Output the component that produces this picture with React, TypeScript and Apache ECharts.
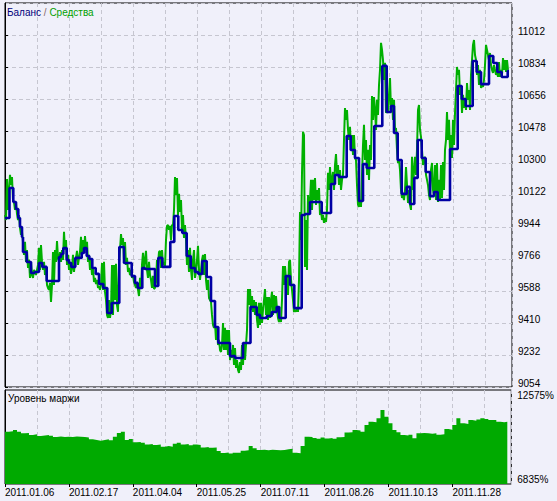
import React, { useEffect, useRef } from "react";
import * as echarts from "echarts";

// X positions are deal-sequence units (0..507); date labels every 64 units.
const dateLabels = [
  "2011.01.06", "2011.02.17", "2011.04.04", "2011.05.25",
  "2011.07.11", "2011.08.26", "2011.10.13", "2011.11.28",
];

// Balance: [position, value] step points
const balance: [number, number][] = [
  [0, 9994], [4.5, 10161], [8.3, 10083], [11, 10044], [13.3, 9994], [15, 9944], [17, 9888], [18, 9805],
  [21.7, 9749], [26, 9688], [29.7, 9694], [34, 9744], [37.3, 9722], [41.7, 9644], [54, 9777], [56, 9794],
  [58.3, 9827], [61.7, 9760], [64, 9744], [66.3, 9722], [70.3, 9772], [76.7, 9799], [79, 9827], [81.7, 9783],
  [84.3, 9766], [87.3, 9716], [90.7, 9683], [94, 9627], [98.3, 9605], [102.3, 9466], [106.7, 9521], [114.3, 9833],
  [119, 9744], [126.7, 9671], [130, 9633], [132.7, 9605], [137.3, 9716], [140, 9710], [150, 9616], [153.3, 9772],
  [157.3, 9722], [165.3, 9861], [169.3, 10005], [173.3, 9927], [177.3, 9911], [181.7, 9783], [185.7, 9716], [190, 9694],
  [193.3, 9683], [197.3, 9755], [201.7, 9666], [206, 9532], [210, 9388], [213.3, 9299], [225, 9226], [230, 9215],
  [238, 9299], [245.5, 9499], [251.7, 9455], [255, 9438], [261.7, 9449], [266.7, 9471], [271.7, 9499], [274.3, 9438],
  [280.7, 9671], [285, 9621], [289.3, 9493], [296.7, 10011], [300, 10016], [305, 10083], [316.7, 10022], [326, 10183],
  [330, 10233], [334, 10222], [341.7, 10450], [345.7, 10372], [350, 10328], [354, 10089], [358, 10294], [361.7, 10272],
  [369.3, 10506], [377.3, 10840], [381.7, 10584], [386, 10617], [389, 10467], [392.7, 10317], [396.7, 10128], [401.7, 10167],
  [405, 10072], [409.3, 10217], [412.7, 10428], [416.7, 10328], [420.7, 10250], [425, 10116], [429, 10139], [432.7, 10094],
  [445, 10378], [452.7, 10728], [456.7, 10656], [460.7, 10617], [467.7, 10867], [471.7, 10806], [476, 10739], [484, 10895],
  [488.3, 10856], [492.3, 10806], [496.7, 10778], [502.7, 10812], [504, 10812],
];

// Equity: one value per position unit, starting at 0
const equity: number[] = [
  10011, 9983, 10211, 10039, 10150, 10234, 10178, 10222, 10094, 10083, 10039, 10078, 10017, 9983, 10011, 9939,
  9900, 9917, 9861, 9789, 9861, 9750, 9816, 9716, 9761, 9661, 9750, 9677, 9661, 9705, 9694, 9677,
  9705, 9733, 9828, 9705, 9844, 9750, 9705, 9750, 9677, 9716, 9622, 9605, 9594, 9633, 9527, 9622,
  9805, 9622, 9816, 9750, 9866, 9772, 9750, 9805, 9750, 9816, 9761, 9917, 9816, 9872, 9733, 9789,
  9705, 9750, 9683, 9716, 9789, 9694, 9750, 9772, 9811, 9733, 9772, 9805, 9889, 9789, 9872, 9805,
  9894, 9816, 9861, 9750, 9789, 9705, 9761, 9677, 9716, 9638, 9661, 9627, 9650, 9605, 9616, 9594,
  9622, 9744, 9594, 9750, 9583, 9538, 9455, 9438, 9538, 9438, 9483, 9733, 9455, 9733, 9538, 9739,
  9510, 9472, 9744, 9816, 9905, 9844, 9883, 9761, 9861, 9733, 9772, 9694, 9716, 9677, 9705, 9661,
  9677, 9638, 9622, 9605, 9633, 9594, 9560, 9661, 9605, 9733, 9800, 9705, 9761, 9811, 9705, 9661,
  9750, 9677, 9650, 9605, 9672, 9599, 9605, 9638, 9761, 9733, 9805, 9811, 9716, 9816, 9733, 9750,
  9727, 9872, 9950, 9955, 9928, 9950, 9872, 9955, 9955, 10039, 10222, 10122, 10217, 10011, 10128, 10028,
  10094, 9928, 10011, 9883, 9955, 9872, 9733, 9816, 9694, 9828, 9705, 9650, 9761, 9816, 9661, 9694,
  9761, 9839, 9705, 9650, 9705, 9761, 9789, 9677, 9794, 9650, 9594, 9650, 9549, 9538, 9527, 9455,
  9399, 9383, 9410, 9316, 9383, 9288, 9316, 9260, 9249, 9288, 9410, 9260, 9383, 9260, 9371, 9232,
  9371, 9204, 9260, 9216, 9288, 9177, 9271, 9160, 9204, 9149, 9132, 9193, 9149, 9288, 9177, 9299,
  9204, 9288, 9371, 9599, 9510, 9599, 9483, 9560, 9472, 9538, 9455, 9527, 9427, 9383, 9522, 9399,
  9522, 9410, 9483, 9538, 9599, 9455, 9555, 9427, 9555, 9438, 9538, 9583, 9455, 9566, 9472, 9560,
  9483, 9438, 9416, 9438, 9416, 9538, 9727, 9622, 9727, 9650, 9677, 9566, 9750, 9761, 9650, 9594,
  9538, 9472, 9483, 9472, 9494, 9472, 9650, 10028, 9872, 10245, 10473, 10456, 9722, 9983, 9705, 10122,
  10011, 10094, 10206, 10039, 10206, 10094, 10217, 10067, 10150, 10094, 10161, 10011, 10039, 9983, 10011, 9967,
  9994, 9972, 10039, 10245, 10150, 10278, 10178, 10206, 10250, 10150, 10289, 10350, 10234, 10289, 10178, 10261,
  10150, 10206, 10234, 10428, 10606, 10540, 10595, 10484, 10428, 10501, 10373, 10456, 10345, 10456, 10328, 10317,
  10178, 10067, 10056, 10094, 10056, 10234, 10400, 10512, 10317, 10428, 10234, 10373, 10206, 10400, 10317, 10673,
  10540, 10667, 10595, 10484, 10651, 10567, 10734, 10818, 10968, 10929, 10873, 10762, 10857, 10578, 10623, 10578,
  10679, 10773, 10595, 10662, 10540, 10651, 10484, 10495, 10373, 10300, 10317, 10261, 10150, 10106, 10122, 10094,
  10150, 10278, 10178, 10078, 10150, 10067, 10039, 10334, 10150, 10261, 10334, 10234, 10373, 10595, 10623, 10484,
  10445, 10373, 10289, 10317, 10334, 10234, 10206, 10178, 10122, 10094, 10261, 10300, 10150, 10122, 10289, 10094,
  10300, 10083, 10206, 10094, 10289, 10106, 10306, 10150, 10373, 10428, 10584, 10428, 10540, 10373, 10456, 10328,
  10540, 10400, 10578, 10706, 10834, 10790, 10818, 10679, 10734, 10578, 10679, 10606, 10651, 10595, 10745, 10651,
  10706, 10595, 10790, 10873, 10957, 10984, 10901, 10873, 10790, 10845, 10734, 10818, 10717, 10734, 10723, 10762,
  10845, 10957, 10929, 10901, 10873, 10912, 10845, 10818, 10801, 10845, 10818, 10790, 10806, 10779, 10862, 10779,
  10818, 10790, 10884, 10818, 10873, 10806, 10873, 10818,
];

// Margin level (%): [position, value]
const marginLevel: [number, number][] = [
  [0, 10028], [4, 10050], [8, 10132], [12, 10028], [16, 9931], [20, 9950], [24, 9827], [28, 9870],
  [32, 9766], [36, 9800], [40, 9827], [44, 9780], [48, 9705], [52, 9740], [56, 9700], [60, 9723],
  [64, 9700], [68, 9740], [72, 9720], [76, 9700], [80, 9680], [84, 9560], [88, 9522], [92, 9480],
  [96, 9522], [100, 9560], [104, 9500], [108, 9723], [112, 9950], [116, 10028], [120, 9522], [124, 9580],
  [128, 9381], [132, 9400], [136, 9350], [140, 9247], [144, 9280], [148, 9220], [152, 9250], [156, 9113],
  [160, 9150], [164, 9113], [168, 9300], [172, 9350], [176, 9247], [180, 9280], [184, 9200], [188, 9250],
  [192, 9220], [196, 9064], [200, 9100], [204, 9050], [208, 9064], [212, 8850], [216, 8728], [220, 8760],
  [224, 8700], [228, 8746], [232, 8746], [236, 8868], [240, 8900], [244, 9155], [248, 9015], [252, 8911],
  [256, 8930], [260, 8900], [264, 8920], [268, 8911], [272, 8890], [276, 8911], [280, 8954], [284, 8990],
  [288, 8746], [292, 8720], [296, 9155], [300, 9723], [304, 9700], [308, 9644], [312, 9600], [316, 9680],
  [320, 9620], [324, 9650], [328, 9600], [332, 9686], [336, 9700], [340, 9980], [344, 10000], [348, 10132],
  [352, 10100], [356, 10028], [360, 10437], [364, 10639], [368, 10600], [372, 10847], [376, 11353], [380, 10944],
  [384, 10541], [388, 10132], [392, 10000], [396, 9827], [400, 9800], [404, 9850], [408, 9626], [412, 9931],
  [416, 9950], [420, 9931], [424, 9900], [428, 9931], [432, 9850], [436, 9880], [440, 10193], [444, 10150],
  [448, 10437], [452, 10847], [456, 10541], [460, 10500], [464, 10743], [468, 10700], [472, 10780], [476, 10847],
  [480, 10800], [484, 10750], [488, 10743], [492, 10639], [496, 10600], [500, 10640], [503, 10640],
];

const BG = "#f0f0fa";
const GRID_LINE = "#c6c6d0";
const FONT = "Liberation Sans";

export default function App() {
  const ref = useRef<HTMLDivElement>(null);
  useEffect(() => {
    if (!ref.current) return;
    const chart = echarts.init(ref.current, null, { renderer: "svg" });
    const dashed = { lineStyle: { color: GRID_LINE, type: [4, 3] as any, width: 1 } };
    chart.setOption({
      animation: false,
      backgroundColor: BG,
      textStyle: { fontFamily: FONT },
      title: [
        {
          text: "{a|Баланс} {b|/} {c|Средства}",
          left: 7,
          top: 7,
          padding: 0,
          textStyle: {
            fontSize: 10,
            fontWeight: "normal",
            rich: {
              a: { color: "#00007a", fontSize: 10, fontFamily: FONT },
              b: { color: "#8a6a6a", fontSize: 10, fontFamily: FONT },
              c: { color: "#00a000", fontSize: 10, fontFamily: FONT },
            },
          },
        },
        {
          text: "Уровень маржи",
          left: 8,
          top: 393,
          padding: 0,
          textStyle: { fontSize: 10, fontWeight: "normal", color: "#000", fontFamily: FONT },
        },
      ],
      grid: [
        { left: 5, right: 45, top: 3, height: 384, show: true, borderColor: "#000", borderWidth: 1, backgroundColor: BG },
        { left: 5, right: 45, top: 390, height: 94, show: true, borderColor: "#000", borderWidth: 1, backgroundColor: BG },
      ],
      xAxis: [
        {
          type: "value", gridIndex: 0, min: 0, max: 507, interval: 32,
          axisLine: { show: false }, axisTick: { show: false }, axisLabel: { show: false },
          splitLine: { show: true, ...dashed },
        },
        {
          type: "value", gridIndex: 1, min: 0, max: 507, interval: 32,
          axisLine: { show: false }, axisTick: { show: false }, axisLabel: { show: false },
          splitLine: { show: true, ...dashed },
        },
        {
          type: "value", gridIndex: 1, min: 0, max: 507, interval: 64, position: "bottom",
          axisLine: { show: false },
          axisTick: { show: true, length: 3, lineStyle: { color: "#000" } },
          splitLine: { show: false },
          axisLabel: {
            show: true, align: "left", margin: 3, color: "#000", fontSize: 10, fontFamily: FONT,
            showMaxLabel: false,
            formatter: (v: number) => {
              const k = v / 64;
              return Number.isInteger(k) && dateLabels[k] ? dateLabels[k] : "";
            },
          },
        },
      ],
      yAxis: [
        {
          type: "value", gridIndex: 0, position: "right", min: 9054, max: 11190, interval: 178,
          axisLine: { show: true, lineStyle: { color: "#000" } },
          axisTick: { show: true, length: 3, lineStyle: { color: "#000" } },
          splitLine: { show: true, ...dashed },
          axisLabel: {
            show: true, margin: 6, color: "#000", fontSize: 10, fontFamily: FONT,
            showMaxLabel: false, verticalAlign: "bottom", lineHeight: 8,
            formatter: (v: number) => String(v),
          },
        },
        {
          type: "value", gridIndex: 1, position: "right", min: 6835, max: 12575, interval: 5740,
          axisLine: { show: true, lineStyle: { color: "#000" } },
          axisTick: { show: false },
          splitLine: { show: false },
          axisLabel: {
            show: true, margin: 6, color: "#000", fontSize: 10, fontFamily: FONT,
            formatter: (v: number) => String(v) + "%",
            verticalAlignMaxLabel: "top",
            verticalAlignMinLabel: "bottom",
          },
        },
      ],
      series: [
        {
          name: "Средства", type: "line", xAxisIndex: 0, yAxisIndex: 0,
          data: equity.map((v, i) => [i, v]),
          showSymbol: false, silent: true, z: 2,
          lineStyle: { color: "#00b000", width: 2 },
        },
        {
          name: "Баланс", type: "line", xAxisIndex: 0, yAxisIndex: 0, step: "end",
          data: balance,
          showSymbol: false, silent: true, z: 3,
          lineStyle: { color: "#0000a4", width: 2.6 },
        },
        {
          name: "Уровень маржи", type: "line", xAxisIndex: 1, yAxisIndex: 1, step: "end",
          data: marginLevel,
          showSymbol: false, silent: true, z: 2,
          lineStyle: { width: 0 },
          areaStyle: { color: "#00aa00", opacity: 1 },
        },
      ],
    });
    return () => chart.dispose();
  }, []);
  return (
    <div
      ref={ref}
      style={{ position: "fixed", left: 0, top: 0, width: 557, height: 501, background: BG }}
    />
  );
}
